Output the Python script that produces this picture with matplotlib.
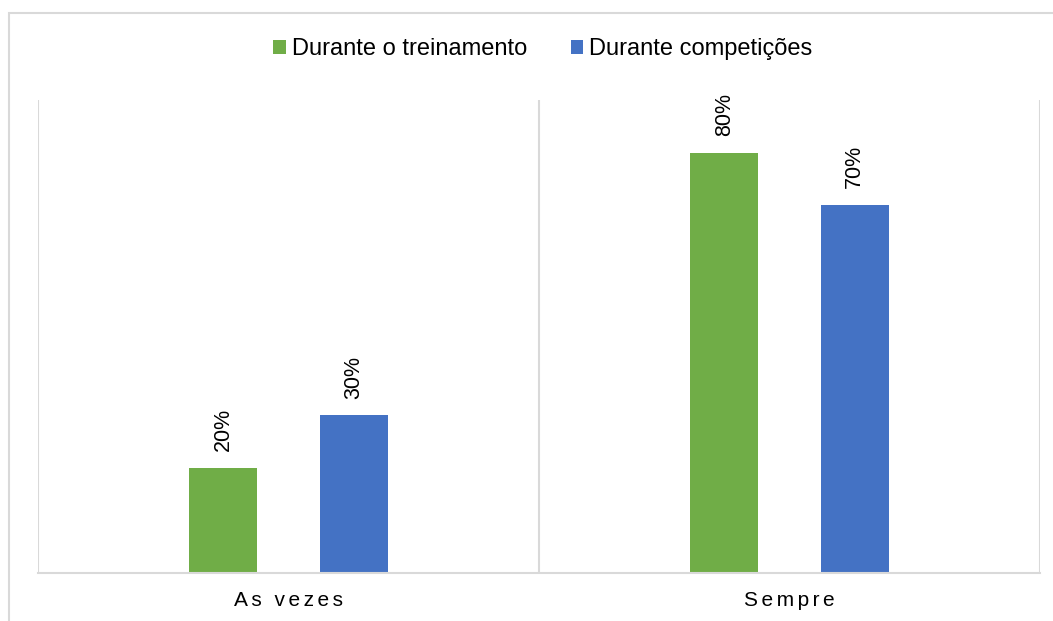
import numpy as np
import matplotlib.pyplot as plt
from matplotlib.patches import Rectangle

categorias = ["As vezes", "Sempre"]
treinamento = [20, 80]
competicoes = [30, 70]
series = ["Durante o treinamento", "Durante competições"]

plt.rcParams['font.family'] = ['Liberation Sans', 'DejaVu Sans']

verde = '#70AD47'
azul = '#4472C4'
cinza = '#D9D9D9'

fig = plt.figure(figsize=(10.53, 6.21), dpi=100)
ax = fig.add_axes([38 / 1053, 48 / 621, 1002 / 1053, 473 / 621])

x = np.arange(len(categorias))
w = 0.136
b1 = ax.bar(x - 0.13, treinamento, w, color=verde, label=series[0])
b2 = ax.bar(x + 0.13, competicoes, w, color=azul, label=series[1])

# rotated value labels
for bars, vals in [(b1, treinamento), (b2, competicoes)]:
    for r, v in zip(bars, vals):
        ax.annotate(f"{v}%", (r.get_x() + r.get_width() / 2, r.get_height()),
                    xytext=(0, 12), textcoords='offset points',
                    rotation=90, ha='center', va='bottom', fontsize=15.5)

ax.set_xlim(-0.5, 1.5)
ax.set_ylim(0, 90)

# category separators
for xv in [-0.5, 0.5, 1.5]:
    ax.axvline(xv, color=cinza, lw=1.5, zorder=0)

for s in ['top', 'left', 'right']:
    ax.spines[s].set_visible(False)
ax.spines['bottom'].set_color(cinza)
ax.spines['bottom'].set_linewidth(1.5)

ax.set_yticks([])
ax.set_xticks(x)
# spaced out letters like the original
ax.set_xticklabels(['\u2006'.join(c) for c in categorias], fontsize=15)
ax.tick_params(axis='x', length=0, pad=13)

fig.legend(handles=[b1, b2], labels=series, loc='center', ncol=2,
           bbox_to_anchor=(543 / 1053, 1 - 49 / 621), frameon=False,
           fontsize=17, handlelength=0.53, handleheight=0.53,
           handletextpad=0.25, columnspacing=1.85)

# outer chart border
fig.patches.append(Rectangle((9 / 1053, -0.1), 1.1, 1 - 12.5 / 621 + 0.1,
                             transform=fig.transFigure, fill=False,
                             edgecolor=cinza, lw=1.5))

fig.savefig('out.png', dpi=100)
